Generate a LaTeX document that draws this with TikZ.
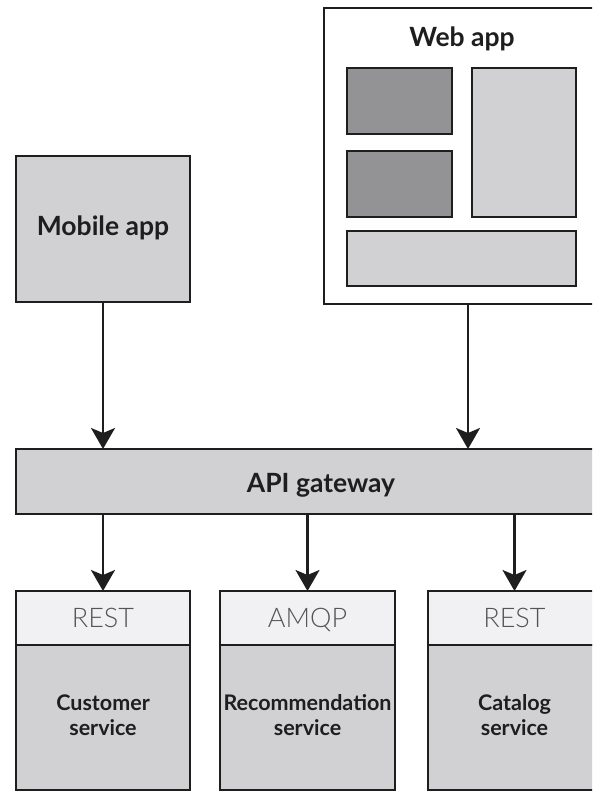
\documentclass[tikz,border=0pt]{standalone}
\usepackage{fontspec}
\setmainfont{Lato}
\newfontfamily\lightfont{Lato Light}
\usetikzlibrary{arrows.meta}

\definecolor{boxfill}{HTML}{D1D1D3}
\definecolor{panelfill}{HTML}{939395}
\definecolor{headfill}{HTML}{F1F1F3}
\definecolor{ink}{HTML}{1E1E1E}
\definecolor{protoink}{HTML}{555555}

\tikzset{
  frame/.style={draw=ink, line width=2.7pt, inner sep=0pt, outer sep=0pt, anchor=north west},
  box/.style={frame, fill=boxfill},
  panel/.style={frame, fill=panelfill},
  header/.style={frame, fill=headfill},
  outer/.style={frame, fill=white},
  title/.style={inner sep=0pt, anchor=base, text=ink, font=\fontsize{26.5}{30}\selectfont\bfseries},
  svcname/.style={inner sep=0pt, anchor=base, align=center, text=ink, font=\fontsize{21.5}{25}\selectfont\bfseries},
  proto/.style={inner sep=0pt, anchor=base, text=protoink, font=\fontsize{27}{30}\selectfont\lightfont},
  flow/.style={draw=ink, line width=2.3pt, -{Stealth[length=21pt, width=24pt, inset=5pt]}},
}

\begin{document}
\begin{tikzpicture}[x={(1pt,0)}, y={(0,-1pt)}]
  \clip (0,0) rectangle (592,791);
  \useasboundingbox (0,0) rectangle (592,791);

  % client applications
  \node[box, minimum width=174pt, minimum height=146pt] (mobile) at (16,156) {};
  \node[title] (mobiletxt) at (103,236) {Mobile app};

  \node[outer, minimum width=276pt, minimum height=296pt] (web) at (324,8) {};
  \node[title] (webtxt) at (462,47) {Web app};
  \node[panel, minimum width=105pt, minimum height=66pt] (webA) at (347,68) {};
  \node[panel, minimum width=105pt, minimum height=66pt] (webB) at (347,151) {};
  \node[box, minimum width=104pt, minimum height=149pt] (webC) at (472,68) {};
  \node[box, minimum width=229pt, minimum height=55pt] (webD) at (347,231) {};
  \coordinate (webport) at (468,304);

  % gateway
  \node[box, minimum width=585pt, minimum height=65pt] (gateway) at (16,449) {};
  \node[title] (gatewaytxt) at (321,492) {API gateway};

  % services: protocol header above service body
  \node[header, minimum width=174pt, minimum height=54pt] (custhead) at (16,591) {};
  \node[box, minimum width=174pt, minimum height=145pt] (cust) at (16,645) {};
  \node[proto] (custproto) at (103,627) {REST};
  \node[svcname] (custtxt) at (103,735) {Customer\\service};

  \node[header, minimum width=175pt, minimum height=54pt] (recohead) at (220,591) {};
  \node[box, minimum width=175pt, minimum height=145pt] (reco) at (220,645) {};
  \node[proto] (recoproto) at (307.5,627) {AMQP};
  \node[svcname] (recotxt) at (307.5,735) {Recommendation\\service};

  \node[header, minimum width=173pt, minimum height=54pt] (cathead) at (428,591) {};
  \node[box, minimum width=173pt, minimum height=145pt] (cat) at (428,645) {};
  \node[proto] (catproto) at (514.5,627) {REST};
  \node[svcname] (cattxt) at (514.5,735) {Catalog\\service};

  % requests
  \draw[flow] (mobile.south) -- (mobile.south |- gateway.north);
  \draw[flow] (webport) -- (webport |- gateway.north);
  \draw[flow] (gateway.south -| custhead.north) -- (custhead.north);
  \draw[flow] (gateway.south -| recohead.north) -- (recohead.north);
  \draw[flow] (gateway.south -| cathead.north) -- (cathead.north);
\end{tikzpicture}
\end{document}
